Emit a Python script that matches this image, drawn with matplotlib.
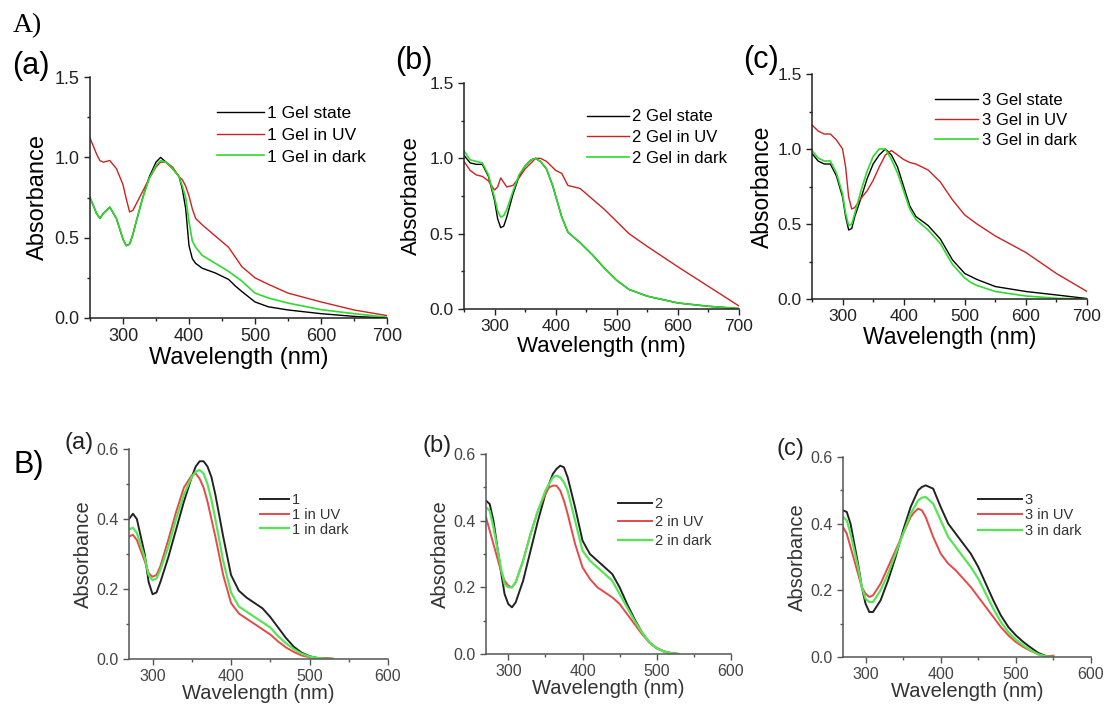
import matplotlib
matplotlib.use('Agg')
import matplotlib.pyplot as plt
from matplotlib.ticker import MultipleLocator, FormatStrFormatter
import numpy as np

plt.rcParams['font.family'] = ['Liberation Sans', 'DejaVu Sans']

# ---- A) gel state spectra ----
wl_a1 = [250, 260, 265, 270, 280, 290, 300, 305, 310, 315, 320, 330, 340, 350, 357, 365, 375,
         385, 390, 395, 400, 405, 410, 420, 440, 460, 470, 480, 500, 520, 550, 600, 650, 700]
a1_gel = [0.75, 0.65, 0.62, 0.65, 0.69, 0.62, 0.49, 0.45, 0.46, 0.52, 0.60, 0.75, 0.88, 0.97, 1.00, 0.97, 0.93,
          0.88, 0.80, 0.68, 0.45, 0.37, 0.34, 0.31, 0.28, 0.24, 0.20, 0.165, 0.10, 0.07, 0.05, 0.027, 0.01, 0.0]
a1_uv = [1.12, 1.02, 0.98, 0.97, 0.98, 0.93, 0.83, 0.74, 0.66, 0.67, 0.71, 0.79, 0.87, 0.94, 0.97, 0.97, 0.94,
         0.88, 0.86, 0.82, 0.76, 0.68, 0.62, 0.58, 0.51, 0.44, 0.38, 0.32, 0.25, 0.21, 0.155, 0.10, 0.05, 0.015]
a1_dark = [0.75, 0.65, 0.62, 0.65, 0.69, 0.62, 0.49, 0.45, 0.46, 0.52, 0.60, 0.75, 0.87, 0.95, 0.98, 0.97, 0.93,
           0.88, 0.82, 0.75, 0.60, 0.48, 0.44, 0.39, 0.34, 0.29, 0.26, 0.23, 0.155, 0.125, 0.093, 0.052, 0.027, 0.005]

wl_a2 = [250, 260, 270, 280, 290, 300, 305, 310, 315, 320, 330, 340, 350, 360, 367,
         375, 385, 395, 400, 410, 420, 440, 460, 480, 500, 520, 550, 600, 650, 700]
a2_gel = [1.02, 0.97, 0.96, 0.96, 0.88, 0.72, 0.60, 0.54, 0.55, 0.61, 0.76, 0.88, 0.95, 0.99, 1.00,
          0.98, 0.93, 0.82, 0.75, 0.61, 0.51, 0.44, 0.36, 0.27, 0.19, 0.13, 0.085, 0.04, 0.018, 0.003]
a2_uv = [0.98, 0.92, 0.89, 0.88, 0.85, 0.79, 0.81, 0.87, 0.84, 0.81, 0.82, 0.87, 0.93, 0.97, 1.00,
         1.00, 0.98, 0.94, 0.92, 0.90, 0.82, 0.80, 0.73, 0.66, 0.58, 0.50, 0.415, 0.28, 0.15, 0.02]
a2_dark = [1.05, 0.99, 0.98, 0.97, 0.89, 0.74, 0.65, 0.61, 0.62, 0.66, 0.78, 0.89, 0.95, 0.99, 1.00,
           0.98, 0.93, 0.82, 0.75, 0.61, 0.51, 0.44, 0.36, 0.27, 0.19, 0.13, 0.085, 0.04, 0.018, 0.003]

wl_a3 = [250, 260, 270, 280, 290, 300, 305, 310, 315, 320, 330, 340, 350, 360, 370,
         380, 390, 400, 410, 420, 440, 460, 480, 500, 510, 520, 550, 600, 650, 700]
a3_gel = [0.97, 0.92, 0.90, 0.90, 0.82, 0.68, 0.55, 0.46, 0.47, 0.55, 0.67, 0.80, 0.90, 0.96, 1.00,
          0.96, 0.88, 0.75, 0.62, 0.55, 0.49, 0.40, 0.26, 0.17, 0.15, 0.13, 0.083, 0.05, 0.027, 0.003]
a3_uv = [1.16, 1.12, 1.10, 1.10, 1.06, 1.00, 0.88, 0.68, 0.60, 0.61, 0.67, 0.72, 0.79, 0.88, 0.96,
         0.99, 0.96, 0.93, 0.91, 0.90, 0.86, 0.78, 0.66, 0.56, 0.53, 0.50, 0.42, 0.31, 0.17, 0.05]
a3_dark = [0.99, 0.94, 0.92, 0.92, 0.84, 0.70, 0.57, 0.49, 0.50, 0.57, 0.72, 0.85, 0.95, 1.00, 1.00,
           0.93, 0.84, 0.72, 0.60, 0.53, 0.46, 0.37, 0.23, 0.14, 0.11, 0.09, 0.05, 0.02, 0.005, 0.0]

# ---- B) solution spectra ----
nan = np.nan
wl_b = [270, 275, 280, 290, 295, 300, 305, 310, 320, 330, 340, 350, 355, 360, 365, 370, 375, 380,
        390, 400, 410, 420, 430, 440, 450, 460, 470, 480, 490, 500, 510, 520, 530, 540, 550]
b1 = [0.40, 0.415, 0.40, 0.30, 0.22, 0.185, 0.19, 0.22, 0.29, 0.37, 0.45, 0.52, 0.55, 0.565, 0.565, 0.55, 0.52, 0.47,
      0.35, 0.24, 0.195, 0.175, 0.16, 0.145, 0.12, 0.09, 0.06, 0.035, 0.018, 0.008, 0.003, 0.001, 0.0, nan, nan]
b1_uv = [0.35, 0.355, 0.34, 0.28, 0.245, 0.235, 0.24, 0.265, 0.34, 0.42, 0.49, 0.525, 0.53, 0.515, 0.49, 0.45, 0.40, 0.35,
         0.24, 0.16, 0.13, 0.115, 0.10, 0.085, 0.07, 0.05, 0.033, 0.02, 0.01, 0.005, 0.003, 0.003, 0.001, nan, nan]
b1_dark = [0.37, 0.375, 0.36, 0.29, 0.24, 0.225, 0.23, 0.255, 0.32, 0.40, 0.47, 0.52, 0.535, 0.54, 0.53, 0.50, 0.455, 0.40,
           0.28, 0.19, 0.15, 0.135, 0.12, 0.105, 0.09, 0.065, 0.045, 0.028, 0.015, 0.007, 0.003, 0.001, 0.0, nan, nan]

b2 = [0.46, 0.45, 0.40, 0.25, 0.18, 0.15, 0.14, 0.155, 0.22, 0.31, 0.40, 0.48, 0.51, 0.54, 0.555, 0.565, 0.56, 0.53,
      0.44, 0.34, 0.30, 0.28, 0.26, 0.24, 0.20, 0.15, 0.105, 0.065, 0.035, 0.017, 0.007, 0.002, 0.0, nan, nan]
b2_uv = [0.41, 0.37, 0.33, 0.25, 0.22, 0.205, 0.20, 0.215, 0.28, 0.36, 0.43, 0.48, 0.50, 0.505, 0.505, 0.49, 0.46, 0.42,
         0.33, 0.26, 0.225, 0.20, 0.185, 0.17, 0.15, 0.12, 0.09, 0.06, 0.035, 0.018, 0.008, 0.003, 0.0, nan, nan]
b2_dark = [0.44, 0.43, 0.38, 0.26, 0.21, 0.20, 0.20, 0.215, 0.28, 0.36, 0.43, 0.49, 0.51, 0.53, 0.535, 0.53, 0.515, 0.49,
           0.40, 0.31, 0.28, 0.26, 0.24, 0.22, 0.18, 0.14, 0.10, 0.065, 0.035, 0.017, 0.007, 0.002, 0.0, nan, nan]

b3 = [0.44, 0.435, 0.40, 0.28, 0.21, 0.16, 0.135, 0.135, 0.17, 0.23, 0.30, 0.38, 0.415, 0.45, 0.475, 0.50, 0.51, 0.515,
      0.505, 0.45, 0.40, 0.37, 0.34, 0.31, 0.27, 0.22, 0.17, 0.125, 0.09, 0.065, 0.045, 0.028, 0.012, 0.003, 0.0]
b3_uv = [0.39, 0.37, 0.33, 0.25, 0.21, 0.19, 0.18, 0.185, 0.22, 0.27, 0.32, 0.37, 0.395, 0.42, 0.435, 0.445, 0.44, 0.42,
         0.36, 0.31, 0.28, 0.26, 0.235, 0.21, 0.18, 0.15, 0.12, 0.09, 0.065, 0.045, 0.03, 0.018, 0.008, 0.002, 0.004]
b3_dark = [0.42, 0.41, 0.37, 0.27, 0.21, 0.175, 0.165, 0.165, 0.20, 0.25, 0.31, 0.37, 0.40, 0.43, 0.45, 0.47, 0.478, 0.48,
           0.46, 0.41, 0.36, 0.33, 0.30, 0.27, 0.235, 0.19, 0.145, 0.105, 0.075, 0.052, 0.035, 0.02, 0.008, 0.002, 0.0]

W, H = 1105, 707
fig = plt.figure(figsize=(W / 100, H / 100), dpi=100)


def px_axes(x0, y0, x1, y1):
    return fig.add_axes([x0 / W, 1 - y1 / H, (x1 - x0) / W, (y1 - y0) / H])


def style(ax, top_row):
    for s in ['top', 'right']:
        ax.spines[s].set_visible(False)
    col = '#222222' if top_row else '#555555'
    for s in ['left', 'bottom']:
        ax.spines[s].set_color(col)
        ax.spines[s].set_linewidth(1.1)
    ax.tick_params(which='both', direction='out', color=col, width=1.0)
    ax.tick_params(which='major', length=4)
    ax.tick_params(which='minor', length=2.5)
    ax.yaxis.set_major_formatter(FormatStrFormatter('%.1f'))


# top row
top = [
    ((90, 77, 387, 318), wl_a1, a1_gel, a1_uv, a1_dark, '1', (0.428, 0.88), 13, 17, 2.7, 0.38, 4),
    ((464, 83, 739, 309), wl_a2, a2_gel, a2_uv, a2_dark, '2', (0.447, 0.883), 12.5, 16, 2.5, 0.35, 5),
    ((812, 74, 1087, 299), wl_a3, a3_gel, a3_uv, a3_dark, '3', (0.447, 0.915), 12.5, 16.5, 2.6, 0.3, 2),
]
for box, wl, gel, uv, dark, n, lpos, tfs, lfs, hl, ls, ypad in top:
    ax = px_axes(*box)
    ax.plot(wl, gel, color='black', lw=1.0, label=n + ' Gel state')
    ax.plot(wl, uv, color='#cc2222', lw=1.0, label=n + ' Gel in UV')
    ax.plot(wl, dark, color='#2edb2e', lw=1.2, label=n + ' Gel in dark')
    ax.set_xlim(250, 700)
    ax.set_ylim(0, 1.5)
    ax.xaxis.set_major_locator(MultipleLocator(100))
    ax.xaxis.set_minor_locator(MultipleLocator(50))
    ax.yaxis.set_major_locator(MultipleLocator(0.5))
    ax.yaxis.set_minor_locator(MultipleLocator(0.25))
    ax.set_xticks([300, 400, 500, 600, 700])
    style(ax, True)
    ax.tick_params(labelsize=tfs, colors='#222222')
    ax.set_xlabel('Wavelength (nm)', fontsize=lfs, labelpad=1)
    ax.set_ylabel('Absorbance', fontsize=lfs, labelpad=ypad)
    ax.legend(loc='upper left', bbox_to_anchor=lpos, frameon=False, fontsize=tfs - 0.5,
              handlelength=hl, handletextpad=0.2, labelspacing=ls, borderpad=0, borderaxespad=0)

# bottom row
bottom = [
    ((129, 449, 388, 659), b1, b1_uv, b1_dark, '1', (0.506, 0.79), 2.0, 0.05),
    ((486, 454, 731, 654), b2, b2_uv, b2_dark, '2', (0.539, 0.785), 2.3, 0.3),
    ((843, 457, 1091, 657), b3, b3_uv, b3_dark, '3', (0.544, 0.82), 3.0, 0.1),
]
for box, base, uv, dark, n, lpos, hl, ls in bottom:
    ax = px_axes(*box)
    ax.plot(wl_b, base, color='#222222', lw=1.4, label=n)
    ax.plot(wl_b, uv, color='#e84848', lw=1.4, label=n + ' in UV')
    ax.plot(wl_b, dark, color='#55e655', lw=1.6, label=n + ' in dark')
    ax.set_xlim(270, 600)
    ax.set_ylim(0, 0.6)
    ax.xaxis.set_major_locator(MultipleLocator(100))
    ax.xaxis.set_minor_locator(MultipleLocator(50))
    ax.yaxis.set_major_locator(MultipleLocator(0.2))
    ax.yaxis.set_minor_locator(MultipleLocator(0.1))
    style(ax, False)
    ax.tick_params(labelsize=11.5, colors='#555555', labelcolor='#444444')
    ax.set_xlabel('Wavelength (nm)', fontsize=14.5, color='#333333', labelpad=0)
    ax.set_ylabel('Absorbance', fontsize=14.5, color='#333333', labelpad=2)
    leg = ax.legend(loc='upper left', bbox_to_anchor=lpos, frameon=False, fontsize=10.5,
                    handlelength=hl, handletextpad=0.2, labelspacing=ls, borderpad=0, borderaxespad=0)
    for t in leg.get_texts():
        t.set_color('#333333')

# panel labels
fig.text(27 / W, 1 - 26 / H, 'A)', family='Liberation Serif', fontsize=20, ha='center', va='center')
fig.text(29 / W, 1 - 465 / H, 'B)', fontsize=22, ha='center', va='center')
for x, y, s in [(31, 66, '(a)'), (414, 61, '(b)'), (761, 60, '(c)')]:
    fig.text(x / W, 1 - y / H, s, fontsize=22, ha='center', va='center')
for x, y, s in [(79, 443, '(a)'), (437, 446, '(b)'), (790, 449, '(c)')]:
    fig.text(x / W, 1 - y / H, s, fontsize=17, ha='center', va='center', color='#222222')

fig.savefig('out.png', dpi=100)
